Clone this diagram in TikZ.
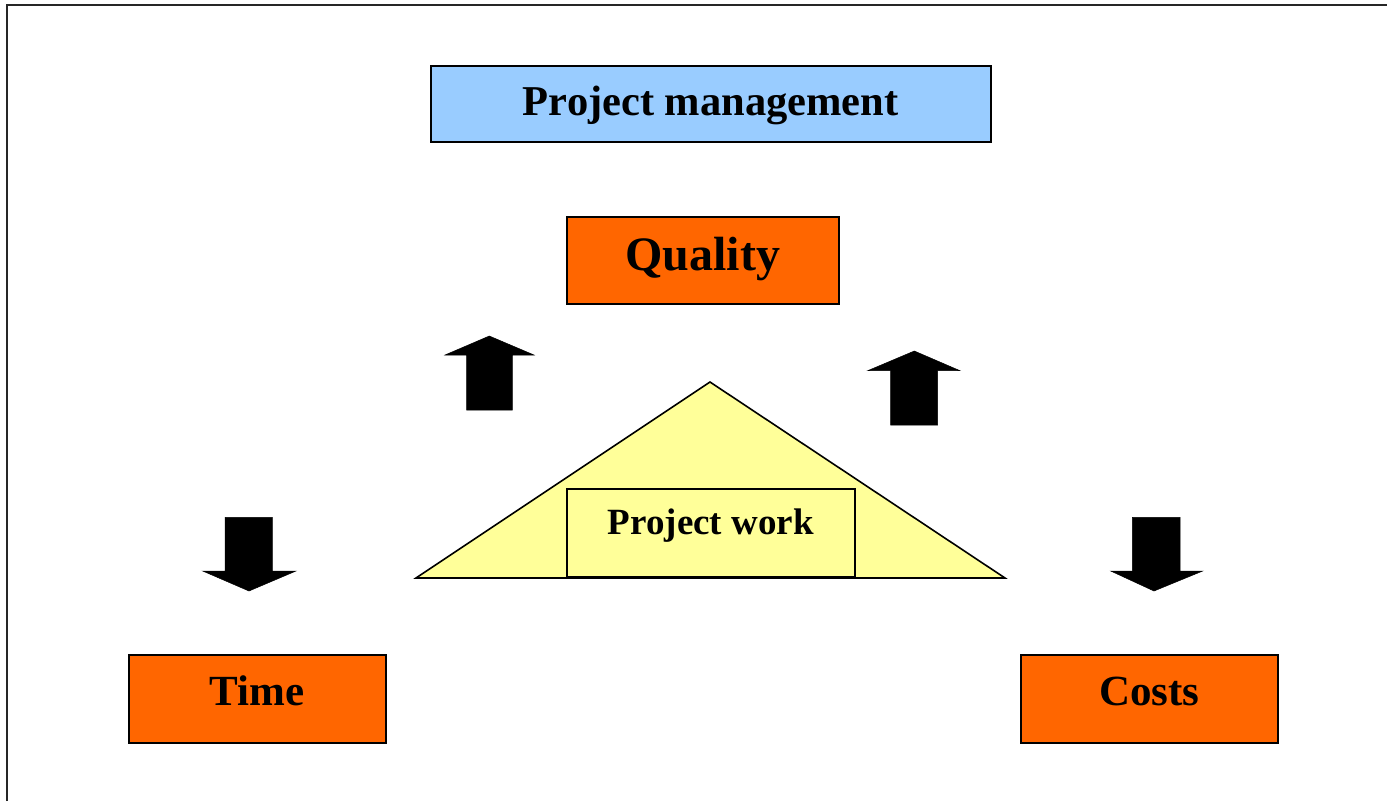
\documentclass[tikz,border=0pt]{standalone}
\usepackage{fontspec}
\setmainfont{Liberation Serif}
\definecolor{pmblue}{HTML}{99CCFF}
\definecolor{qorange}{HTML}{FF6600}
\definecolor{pyellow}{HTML}{FFFF99}
\tikzset{
  box/.style={draw=black, line width=1.6pt, inner sep=0pt, anchor=north west, text depth=0pt},
  blockarrow/.style={fill=black, draw=black, line width=0.5pt},
}
\begin{document}
\begin{tikzpicture}[x=1pt,y=-1pt]
\useasboundingbox (0,0) rectangle (1387,801);
% frame
\draw[line width=2.2pt, black!85] (7,801) -- (7,5) -- (1387,5);
% project management
\node[box, fill=pmblue, minimum width=560pt, minimum height=76pt, text height=22.6pt, font=\bfseries\fontsize{42.5}{50}\selectfont] (pm) at (430,65) {Project management};
% quality
\node[box, fill=qorange, minimum width=272pt, minimum height=87pt, text height=21pt, font=\bfseries\fontsize{48}{56}\selectfont] (quality) at (566,216) {Quality};
% time
\node[box, fill=qorange, minimum width=257pt, minimum height=88pt, text height=12.6pt, font=\bfseries\fontsize{43}{50}\selectfont] (time) at (128,654) {Time};
% costs
\node[box, fill=qorange, minimum width=257pt, minimum height=88pt, text height=12.6pt, font=\bfseries\fontsize{43}{50}\selectfont] (costs) at (1020,654) {Costs};
% triangle
\draw[fill=pyellow, line width=1.6pt, line join=miter] (416,578) -- (710,382) -- (1005,578) -- cycle;
% project work
\node[box, fill=pyellow, minimum width=288pt, minimum height=88pt, text height=2.6pt, font=\bfseries\fontsize{37}{44}\selectfont] (work) at (566,488) {Project work};
% up arrows
\fill[blockarrow] (466.7,410) -- (466.7,355) -- (445,355) -- (489.3,336) -- (534,355) -- (512.3,355) -- (512.3,410) -- cycle;
\fill[blockarrow] (890.7,425) -- (890.7,370.7) -- (867.7,370.7) -- (914.3,351) -- (960,370.7) -- (937.7,370.7) -- (937.7,425) -- cycle;
% down arrows
\fill[blockarrow] (225,517.3) -- (225,571) -- (202.7,571) -- (249,591) -- (296,571) -- (272.3,571) -- (272.3,517.3) -- cycle;
\fill[blockarrow] (1132.3,517.3) -- (1132.3,571) -- (1110.7,571) -- (1154,591) -- (1202.7,571) -- (1180,571) -- (1180,517.3) -- cycle;
\end{tikzpicture}
\end{document}
